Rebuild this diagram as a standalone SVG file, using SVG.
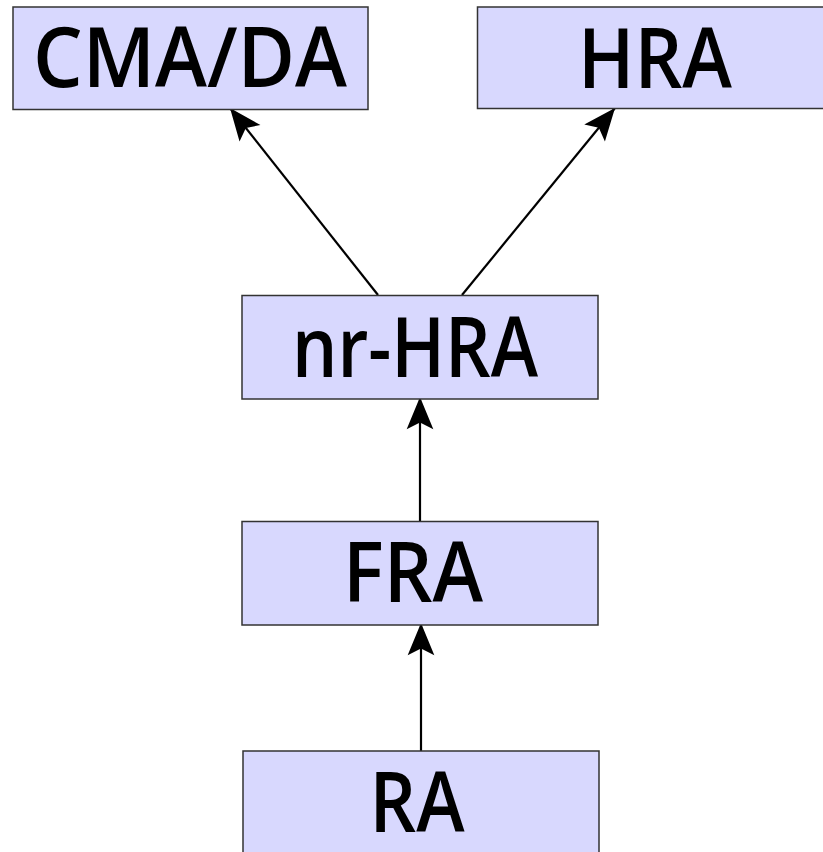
<svg xmlns="http://www.w3.org/2000/svg" width="823" height="852" viewBox="0 0 823 852">
<style>
.box{fill:#d8d8fe;stroke:#333;stroke-width:1.5}
.lbl{font-family:"Open Sans","Noto Sans",sans-serif;font-weight:600;font-size:84px;fill:#000;text-anchor:middle}
.edge{stroke:#000;stroke-width:2.2;fill:none;marker-end:url(#ah)}
</style>
<defs>
<marker id="ah" markerUnits="userSpaceOnUse" markerWidth="40" markerHeight="40" viewBox="-32 -16 36 32" refX="0" refY="0" orient="auto">
<path d="M0,0 L-29,-12 L-23,0 L-29,12 Z" fill="#000"/>
</marker>
</defs>
<rect width="823" height="852" fill="#fff"/>
<g id="edges">
<path class="edge" d="M378,295 L230,108"/>
<path class="edge" d="M462,295 L615,108"/>
<path class="edge" d="M420,522 L420,397"/>
<path class="edge" d="M421,751 L421,623"/>
</g>
<g id="cmada"><rect class="box" x="13" y="7" width="355" height="102.5"/><text class="lbl" x="190" y="87" textLength="314" lengthAdjust="spacingAndGlyphs">CMA/DA</text></g>
<g id="hra"><rect class="box" x="477.5" y="7" width="356" height="101.5"/><text class="lbl" x="655" y="88" textLength="154" lengthAdjust="spacingAndGlyphs">HRA</text></g>
<g id="nrhra"><rect class="box" x="242" y="295.5" width="356" height="103.5"/><text class="lbl" x="415" y="377" textLength="246" lengthAdjust="spacingAndGlyphs">nr-HRA</text></g>
<g id="fra"><rect class="box" x="242" y="521.5" width="356" height="103.5"/><text class="lbl" x="413" y="602" textLength="140" lengthAdjust="spacingAndGlyphs">FRA</text></g>
<g id="ra"><rect class="box" x="243" y="751" width="356" height="110"/><text class="lbl" x="417" y="832" textLength="95" lengthAdjust="spacingAndGlyphs">RA</text></g>
</svg>
